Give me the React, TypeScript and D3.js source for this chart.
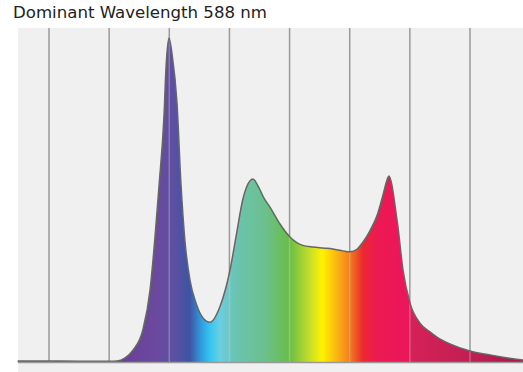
import React from "react";
import * as d3 from "d3";

const title = "Dominant Wavelength 588 nm";

// wavelength (nm) and relative intensity
const wavelengths = [324, 359, 392, 401, 406.5, 413, 420, 428, 434, 438, 441.4, 445.6, 447.3, 449.8, 452.3, 456.4, 459.7, 463.1, 467.2, 472.2, 478, 483.8, 492, 500.5, 506, 511, 517, 519.6, 523.8, 528.7, 533.7, 542, 550.3, 561, 569.5, 577.8, 586.1, 594.4, 600.2, 606, 611, 616.8, 622.7, 627.6, 631, 632.6, 635.1, 637.6, 640.1, 644.3, 650.1, 658.4, 666.7, 672.5, 683.3, 700, 716.6, 727.4, 744];
const intensity = [0.003, 0.003, 0.002, 0.002, 0.003, 0.012, 0.037, 0.099, 0.222, 0.38, 0.54, 0.76, 0.91, 1.0, 0.95, 0.8, 0.55, 0.37, 0.253, 0.182, 0.136, 0.123, 0.17, 0.284, 0.398, 0.5, 0.559, 0.565, 0.543, 0.506, 0.478, 0.426, 0.386, 0.36, 0.355, 0.352, 0.349, 0.343, 0.34, 0.348, 0.37, 0.405, 0.452, 0.515, 0.562, 0.574, 0.546, 0.485, 0.417, 0.284, 0.182, 0.12, 0.093, 0.077, 0.056, 0.034, 0.022, 0.015, 0.006];

const gridTicks = [350, 400, 450, 500, 550, 600, 650, 700];

const stopNm = [324, 410, 440, 455, 467, 477, 484, 492, 505, 530, 550, 566, 577, 590, 600, 611, 622, 648, 652, 700, 744];
const stopColor = ["#6b3f9a", "#6b3f9a", "#6a4a9e", "#5a50a2", "#3c54a3", "#2f9fe0", "#35c6f0", "#6ccde0", "#6ac4b0", "#6cc08c", "#69bd45", "#c3dc2a", "#fff200", "#fbb116", "#f47c20", "#ec2830", "#ec1a52", "#eb155b", "#d42158", "#c11f54", "#a8174a"];

const W = 523, H = 372;
const left = 18, right = 523, top = 28, baseY = 362;

export default function App() {
  const x = d3.scaleLinear().domain([350, 700]).range([49, 470]);
  const xDom: [number, number] = [x.invert(left), x.invert(right)];
  const y = d3.scaleLinear().domain([0, 1]).range([baseY, 38]);
  const data = wavelengths.map((w, i) => ({ w, v: intensity[i] }));
  const area = d3.area<{ w: number; v: number }>()
    .x(d => x(d.w)).y0(baseY).y1(d => y(d.v)).curve(d3.curveMonotoneX);
  const line = d3.line<{ w: number; v: number }>()
    .x(d => x(d.w)).y(d => y(d.v)).curve(d3.curveMonotoneX);
  const areaPath = area(data) || "";
  const span = xDom[1] - xDom[0];
  return (
    <svg width={W} height={H} style={{ position: "fixed", left: 0, top: 0, background: "#fff" }}>
      <defs>
        <linearGradient id="spec" gradientUnits="userSpaceOnUse" x1={left} x2={right} y1={0} y2={0}>
          {stopNm.map((n, i) => (
            <stop key={i} offset={(n - xDom[0]) / span} stopColor={stopColor[i]} />
          ))}
        </linearGradient>
        <clipPath id="ac"><path d={areaPath} /></clipPath>
      </defs>
      <text x={13} y={18} fontFamily="'DejaVu Sans', sans-serif" fontSize={15} textLength={254} lengthAdjust="spacingAndGlyphs" fill="#222">{title}</text>
      <rect x={left} y={top} width={right - left} height={H - top} fill="#f0f0f0" />
      {gridTicks.map(t => (
        <line key={t} x1={x(t)} x2={x(t)} y1={top} y2={baseY} stroke="#9a9a9a" strokeWidth={1.5} />
      ))}
      <path d={areaPath} fill="url(#spec)" />
      <g clipPath="url(#ac)">
        {gridTicks.map(t => (
          <line key={t} x1={x(t)} x2={x(t)} y1={top} y2={baseY} stroke="#d0d0d0" strokeOpacity={0.35} strokeWidth={1.5} />
        ))}
      </g>
      <path d={line(data) || ""} fill="none" stroke="#666" strokeWidth={1.5} />
      <line x1={left} x2={right} y1={baseY + 0.5} y2={baseY + 0.5} stroke="#999" strokeWidth={1.5} />
    </svg>
  );
}
